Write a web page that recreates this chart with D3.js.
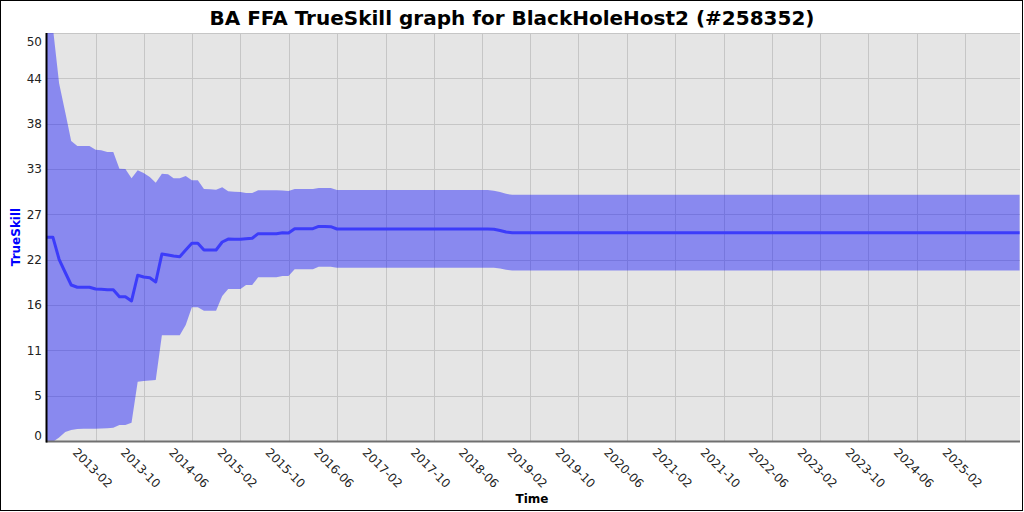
<!DOCTYPE html>
<html lang="en">
<head>
<meta charset="utf-8">
<title>BA FFA TrueSkill graph</title>
<script src="https://d3js.org/d3.v7.min.js"></script>
<style>
  body { margin: 0; background: #fff; }
  svg { font-family: "DejaVu Sans", sans-serif; }
</style>
</head>
<body>
<svg width="1024" height="512"></svg>
<script>
// monthly readings from the picture, then sparse points where the curve is flat
var months = [
  '2012-06','2012-07','2012-08','2012-09','2012-10','2012-11','2012-12',
  '2013-01','2013-02','2013-03','2013-04','2013-05','2013-06','2013-07','2013-08','2013-09','2013-10','2013-11','2013-12',
  '2014-01','2014-02','2014-03','2014-04','2014-05','2014-06','2014-07','2014-08','2014-09','2014-10','2014-11','2014-12',
  '2015-01','2015-02','2015-03','2015-04','2015-05','2015-06','2015-07','2015-08','2015-09','2015-10','2015-11','2015-12',
  '2016-01','2016-02','2016-03','2016-04','2016-05','2016-06',
  '2018-07','2018-08','2018-09','2018-10','2018-11','2025-11'
];
var mu = [
  24.96, 24.96, 22.27, 20.65, 19.12, 18.84, 18.84,
  18.84, 18.63, 18.59, 18.54, 18.54, 17.68, 17.68, 17.16, 20.31, 20.10, 20.01, 19.49,
  22.92, 22.79, 22.67, 22.59, 23.40, 24.23, 24.23, 23.41, 23.41, 23.41, 24.39, 24.75,
  24.72, 24.72, 24.79, 24.84, 25.41, 25.41, 25.41, 25.41, 25.53, 25.49, 26.02, 26.02,
  26.02, 26.02, 26.29, 26.29, 26.26, 25.98,
  25.98, 25.95, 25.80, 25.61, 25.53, 25.53
];
var upper = [
  50.0, 50.6, 43.84, 40.30, 36.76, 36.15, 36.15,
  36.15, 35.70, 35.63, 35.42, 35.42, 33.37, 33.33, 32.19, 33.17, 32.84, 32.35, 31.66,
  32.76, 32.68, 32.19, 32.19, 32.48, 31.95, 31.95, 30.88, 30.85, 30.80, 31.09, 30.60,
  30.55, 30.51, 30.39, 30.39, 30.72, 30.72, 30.72, 30.72, 30.70, 30.64, 30.88, 30.88,
  30.88, 30.88, 31.00, 31.00, 31.00, 30.76,
  30.76, 30.67, 30.51, 30.29, 30.17, 30.17
];
var lower = [
  -0.8, -0.1, 0.43, 1.10, 1.35, 1.47, 1.51,
  1.51, 1.51, 1.53, 1.56, 1.63, 1.96, 1.96, 2.24, 7.27, 7.35, 7.41, 7.48,
  12.95, 12.95, 12.95, 12.95, 14.22, 16.39, 16.39, 15.97, 15.97, 15.97, 17.77, 18.63,
  18.63, 18.63, 19.12, 19.12, 20.06, 20.06, 20.06, 20.06, 20.22, 20.22, 21.04, 21.04,
  21.04, 21.04, 21.36, 21.36, 21.36, 21.22,
  21.22, 21.22, 21.14, 20.99, 20.90, 20.90
];

var xTicks = ['2013-02','2013-10','2014-06','2015-02','2015-10','2016-06','2017-02','2017-10','2018-06',
  '2019-02','2019-10','2020-06','2021-02','2021-10','2022-06','2023-02','2023-10','2024-06','2025-02'];
var yTickValues = [0, 50/9, 100/9, 150/9, 200/9, 250/9, 300/9, 350/9, 400/9, 50];
var yTickLabels = ['0','5','11','16','22','27','33','38','44','50'];
var xDomain = ['2012-05-27', '2025-11-03'];

var parseMonth = d3.timeParse('%Y-%m');
var parseDay = d3.timeParse('%Y-%m-%d');

var plotLeft = 46, plotRight = 1020, plotTop = 33, plotBottom = 441;

var svg = d3.select('svg');

var x = d3.scaleTime().domain(xDomain.map(parseDay)).range([plotLeft, plotRight]);
var y = d3.scaleLinear().domain([0, 50]).range([plotBottom, plotTop]);

var data = months.map(function(m, i) {
  return { date: parseMonth(m), mu: mu[i], hi: upper[i], lo: lower[i] };
});

// outer frame
svg.append('rect')
  .attr('x', 0.5).attr('y', 0.5).attr('width', 1022).attr('height', 510)
  .attr('fill', '#fff').attr('stroke', '#000').attr('stroke-width', 1);

// plot background
svg.append('rect')
  .attr('x', plotLeft).attr('y', plotTop)
  .attr('width', plotRight - plotLeft).attr('height', plotBottom - plotTop)
  .attr('fill', '#e5e5e5');

svg.append('clipPath').attr('id', 'plotclip')
  .append('rect')
  .attr('x', plotLeft).attr('y', plotTop)
  .attr('width', plotRight - plotLeft).attr('height', plotBottom - plotTop);

// grid
var grid = svg.append('g').attr('stroke', '#c6c6c6').attr('stroke-width', 1);
grid.selectAll('.vg')
  .data(xTicks)
  .enter().append('line')
  .attr('x1', function(d) { return Math.round(x(parseMonth(d))) + 0.5; })
  .attr('x2', function(d) { return Math.round(x(parseMonth(d))) + 0.5; })
  .attr('y1', plotTop).attr('y2', plotBottom);
grid.selectAll('.hg')
  .data(yTickValues)
  .enter().append('line')
  .attr('x1', plotLeft).attr('x2', plotRight)
  .attr('y1', function(d) { return Math.round(y(d)) + 0.5; })
  .attr('y2', function(d) { return Math.round(y(d)) + 0.5; });

var plot = svg.append('g').attr('clip-path', 'url(#plotclip)');

// uncertainty band
plot.append('path')
  .datum(data)
  .attr('fill', 'rgba(0,0,255,0.4)')
  .attr('d', d3.area()
    .x(function(d) { return x(d.date); })
    .y0(function(d) { return y(d.lo); })
    .y1(function(d) { return y(d.hi); }));

// mean skill
plot.append('path')
  .datum(data)
  .attr('fill', 'none')
  .attr('stroke', 'rgb(60,60,250)')
  .attr('stroke-width', 3)
  .attr('stroke-linejoin', 'round')
  .attr('d', d3.line()
    .x(function(d) { return x(d.date); })
    .y(function(d) { return y(d.mu); }));

// axis lines
svg.append('line')
  .attr('x1', plotLeft).attr('x2', plotRight)
  .attr('y1', plotBottom + 0.5).attr('y2', plotBottom + 0.5)
  .attr('stroke', '#707070').attr('stroke-width', 2);
svg.append('line')
  .attr('x1', plotLeft + 0.5).attr('x2', plotLeft + 0.5)
  .attr('y1', plotTop).attr('y2', plotBottom + 1.5)
  .attr('stroke', '#000').attr('stroke-width', 2);

// y tick labels
svg.append('g')
  .selectAll('text')
  .data(yTickValues)
  .enter().append('text')
  .attr('x', 42)
  .attr('y', function(d) { return Math.min(436, Math.max(42, y(d))); })
  .attr('dy', '0.35em')
  .attr('text-anchor', 'end')
  .attr('font-size', 12)
  .attr('fill', '#222')
  .text(function(d, i) { return yTickLabels[i]; });

// x tick labels, slanted
svg.append('g')
  .selectAll('text')
  .data(xTicks)
  .enter().append('text')
  .attr('transform', function(d) {
    return 'translate(' + (x(parseMonth(d)) - 3) + ',468) rotate(45)';
  })
  .attr('dy', '0.35em')
  .attr('text-anchor', 'middle')
  .attr('font-size', 12)
  .attr('fill', '#222')
  .text(function(d) { return d; });

// titles
svg.append('text')
  .attr('x', 512).attr('y', 25)
  .attr('text-anchor', 'middle')
  .attr('font-size', 20).attr('font-weight', 'bold')
  .text('BA FFA TrueSkill graph for BlackHoleHost2 (#258352)');

svg.append('text')
  .attr('transform', 'translate(20,237) rotate(-90)')
  .attr('text-anchor', 'middle')
  .attr('font-size', 12).attr('font-weight', 'bold')
  .attr('fill', '#0000ff')
  .text('TrueSkill');

svg.append('text')
  .attr('x', 532).attr('y', 503)
  .attr('text-anchor', 'middle')
  .attr('font-size', 12).attr('font-weight', 'bold')
  .text('Time');
</script>
</body>
</html>
